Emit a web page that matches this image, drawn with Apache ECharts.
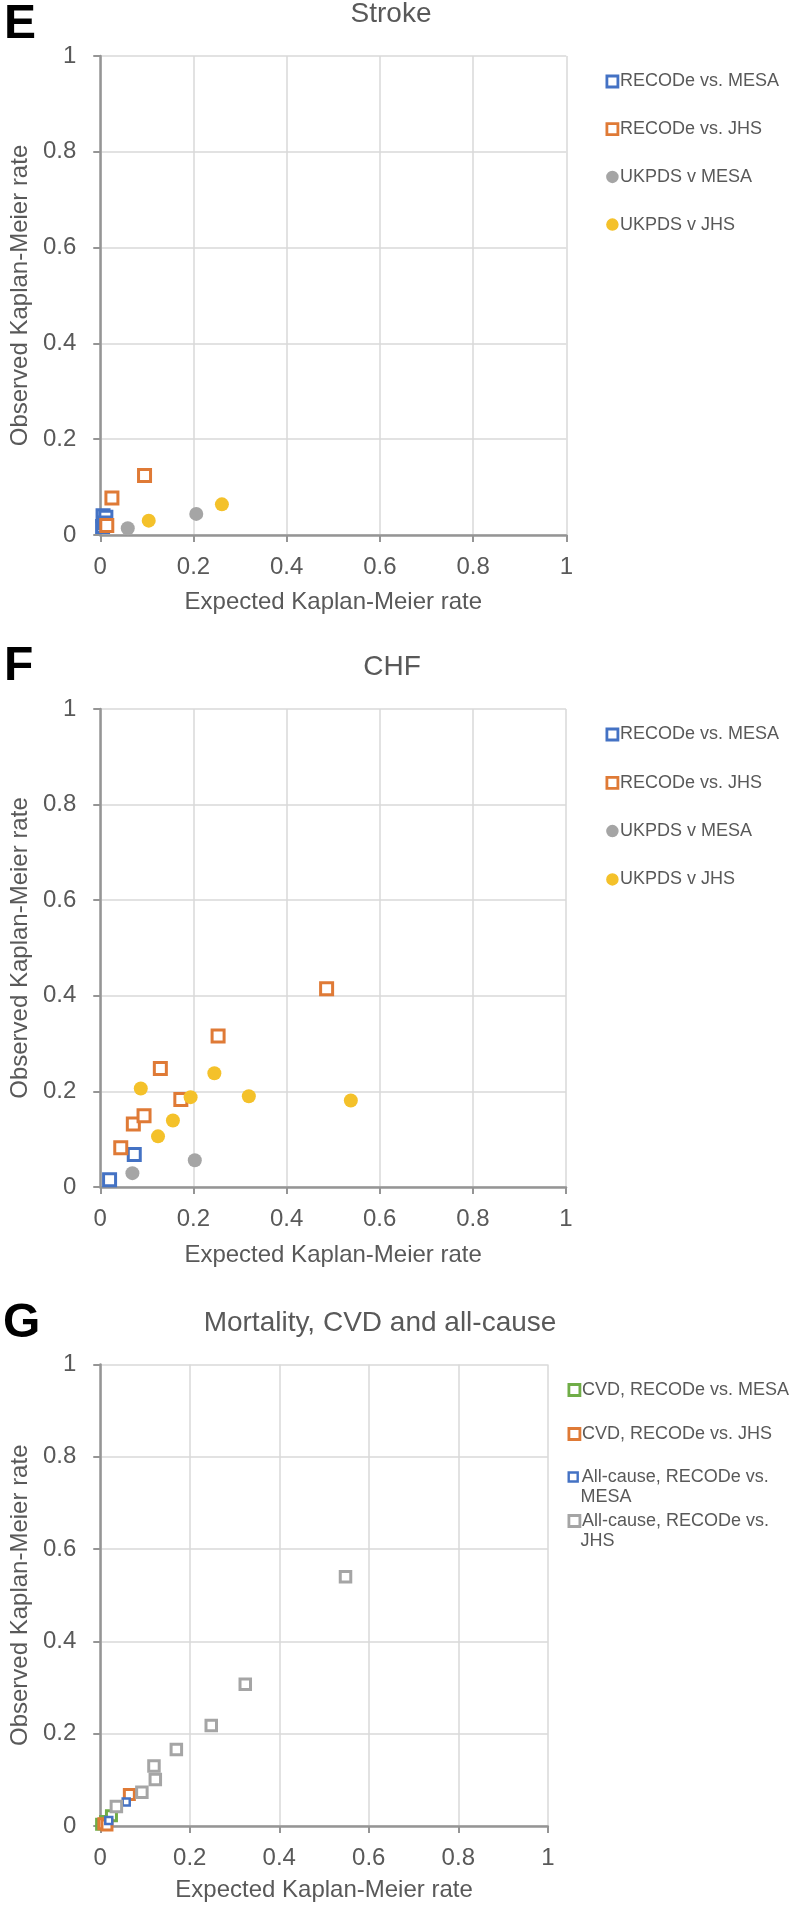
<!DOCTYPE html>
<html>
<head>
<meta charset="utf-8">
<script src="https://cdn.jsdelivr.net/npm/echarts@6/dist/echarts.min.js"></script>
<style>
html,body{margin:0;padding:0;background:#fff;}
#c{width:789px;height:1907px;}
</style>
</head>
<body>
<div id="c"></div>
<script>
// ---- data ----
const tickLabels = ['0', '0.2', '0.4', '0.6', '0.8', '1'];
const seriesNamesEF = ['RECODe vs. MESA', 'RECODe vs. JHS', 'UKPDS v MESA', 'UKPDS v JHS'];
const seriesNamesG = ['CVD, RECODe vs. MESA', 'CVD, RECODe vs. JHS', 'All-cause, RECODe vs. MESA', 'All-cause, RECODe vs. JHS'];
const panelTitles = ['Stroke', 'CHF', 'Mortality, CVD and all-cause'];
const panelLetters = ['E', 'F', 'G'];
const xName = 'Expected Kaplan-Meier rate';
const yName = 'Observed Kaplan-Meier rate';

// Stroke
const strokeRecodeMesa = [[0.006, 0.040], [0.012, 0.037], [0.005, 0.018], [0.010, 0.025]];
const strokeRecodeJhs = [[0.095, 0.124], [0.025, 0.077], [0.014, 0.020]];
const strokeUkpdsMesa = [[0.059, 0.014], [0.206, 0.044]];
const strokeUkpdsJhs = [[0.104, 0.030], [0.261, 0.064]];

// CHF
const chfRecodeMesa = [[0.020, 0.015], [0.073, 0.068]];
const chfRecodeJhs = [[0.044, 0.082], [0.071, 0.132], [0.094, 0.149], [0.129, 0.248], [0.173, 0.183], [0.253, 0.316], [0.486, 0.415]];
const chfUkpdsMesa = [[0.069, 0.029], [0.203, 0.056]];
const chfUkpdsJhs = [[0.087, 0.206], [0.124, 0.106], [0.156, 0.139], [0.194, 0.188], [0.245, 0.238], [0.319, 0.190], [0.538, 0.181]];

// Mortality
const mortCvdMesa = [[0.003, 0.004], [0.012, 0.010], [0.025, 0.022]];
const mortCvdJhs = [[0.008, 0.005], [0.015, 0.002], [0.065, 0.068]];
const mortAllMesa = [[0.019, 0.012], [0.058, 0.052]];
const mortAllJhs = [[0.036, 0.042], [0.093, 0.073], [0.123, 0.101], [0.120, 0.130], [0.170, 0.166], [0.248, 0.218], [0.324, 0.307], [0.548, 0.540]];

// ---- style ----
const BLUE = '#4472C4', ORANGE = '#DF7A36', GRAY = '#A5A5A5', YELLOW = '#F4C12A', GREEN = '#70AD47';
const TXT = '#595959';
const FONT = '"Liberation Sans", Arial, sans-serif';

const grids = [
  { left: 88.3, top: 56, width: 478, height: 479 },
  { left: 89, top: 709, width: 477, height: 478 },
  { left: 87.3, top: 1364.5, width: 460.5, height: 461.5 }
];
const xNameGaps = [55, 56, 52];
const yNameGaps = [67, 66, 64];

function xAxis(i) {
  return {
    gridIndex: i, type: 'value', min: 0, max: 1, interval: 0.2,
    axisLine: { show: true, onZero: false, lineStyle: { color: '#959595', width: 2.5 } },
    axisTick: { show: true, length: 7, lineStyle: { color: '#959595', width: 2 } },
    splitLine: { show: true, lineStyle: { color: '#D9D9D9', width: 1.5 } },
    axisLabel: { margin: 20, fontSize: 24, color: TXT, fontFamily: FONT,
      formatter: v => tickLabels[Math.round(v / 0.2)] },
    name: xName, nameLocation: 'middle', nameGap: xNameGaps[i],
    nameTextStyle: { fontSize: 24, color: TXT, fontFamily: FONT }
  };
}
function yAxis(i) {
  return {
    gridIndex: i, type: 'value', min: 0, max: 1, interval: 0.2,
    axisLine: { show: true, onZero: false, lineStyle: { color: '#959595', width: 2.5 } },
    axisTick: { show: true, length: 7, lineStyle: { color: '#959595', width: 2 } },
    splitLine: { show: true, lineStyle: { color: '#D9D9D9', width: 1.5 } },
    axisLabel: { margin: 24, fontSize: 24, color: TXT, fontFamily: FONT,
      formatter: v => tickLabels[Math.round(v / 0.2)] },
    name: yName, nameLocation: 'middle', nameGap: yNameGaps[i],
    nameTextStyle: { fontSize: 24, color: TXT, fontFamily: FONT }
  };
}
function sq(name, gi, data, color, size, bw) {
  return { name, type: 'scatter', xAxisIndex: gi, yAxisIndex: gi, data,
    symbol: 'rect', symbolSize: size,
    itemStyle: { color: '#ffffff', borderColor: color, borderWidth: bw, opacity: 1 },
    emphasis: { disabled: true } };
}
function dot(name, gi, data, color, size) {
  return { name, type: 'scatter', xAxisIndex: gi, yAxisIndex: gi, data,
    symbol: 'circle', symbolSize: size,
    itemStyle: { color: color, opacity: 1 },
    emphasis: { disabled: true } };
}

const titleCenters = [[391, 14], [392, 667.5], [380, 1323]];
const letterCenters = [[4, 24.5], [4, 666.5], [3, 1323.5]];
const graphic = [];
panelTitles.forEach((t, i) => {
  graphic.push({ type: 'text', x: titleCenters[i][0], y: titleCenters[i][1],
    style: { text: t, fill: TXT, font: '28px ' + FONT, textAlign: 'center', textVerticalAlign: 'middle' } });
  graphic.push({ type: 'text', x: letterCenters[i][0], y: letterCenters[i][1],
    style: { text: panelLetters[i], fill: '#000', font: 'bold 48px ' + FONT, textAlign: 'left', textVerticalAlign: 'middle' } });
});

const legendText = { fontSize: 18, color: TXT, fontFamily: FONT, lineHeight: 20, padding: [0, 0, 0, -3] };
const legendBase = { orient: 'vertical', padding: 0, itemWidth: 11, itemHeight: 11, selectedMode: false, textStyle: legendText };

const efIcons = [
  { icon: 'rect', itemStyle: { color: '#fff', borderColor: BLUE, borderWidth: 2.8 } },
  { icon: 'rect', itemStyle: { color: '#fff', borderColor: ORANGE, borderWidth: 2.8 } },
  { icon: 'circle', itemStyle: { color: GRAY, borderColor: GRAY, borderWidth: 1.5 } },
  { icon: 'circle', itemStyle: { color: YELLOW, borderColor: YELLOW, borderWidth: 1.5 } }
];
const gColors = [GREEN, ORANGE, BLUE, GRAY];

const legends = [
  Object.assign({}, legendBase, { left: 605.5, top: 71.5, itemGap: 27.7, data: seriesNamesEF.map((n, k) => Object.assign({ name: n }, efIcons[k])) }),
  Object.assign({}, legendBase, { left: 605.5, top: 724.5, itemGap: 28.3, data: seriesNamesEF.map((n, k) => Object.assign({ name: n }, efIcons[k])) })
];
// G legends, one per item; long names wrap after "vs." (second line drawn beneath)
const gLegendTops = [1380, 1424, 1467, 1511];
const gIconBorder = [2.8, 2.8, 2.4, 2.8];
seriesNamesG.forEach((n, k) => {
  const twoLine = k >= 2;
  legends.push(Object.assign({}, legendBase, {
    left: 567.5, top: gLegendTops[k],
    itemWidth: k === 2 ? 9 : 11, itemHeight: k === 2 ? 9 : 11,
    data: [{ name: n, icon: 'rect', itemStyle: { color: '#fff', borderColor: gColors[k], borderWidth: gIconBorder[k] } }],
    textStyle: Object.assign({}, legendText, k === 2 ? { padding: [0, 0, 0, -1] } : {}),
    formatter: nm => twoLine ? nm.slice(0, nm.indexOf('vs.') + 3) : nm
  }));
  if (twoLine) {
    graphic.push({ type: 'text', x: 580.5, y: gLegendTops[k] + 30,
      style: { text: n.slice(n.indexOf('vs.') + 4), fill: TXT, font: '18px ' + FONT, textAlign: 'left', textVerticalAlign: 'middle' } });
  }
});

const option = {
  backgroundColor: '#ffffff',
  animation: false,
  graphic: graphic,
  grid: grids,
  xAxis: [xAxis(0), xAxis(1), xAxis(2)],
  yAxis: [yAxis(0), yAxis(1), yAxis(2)],
  legend: legends,
  series: [
    sq(seriesNamesEF[0], 0, strokeRecodeMesa, BLUE, 12, 3),
    sq(seriesNamesEF[1], 0, strokeRecodeJhs, ORANGE, 12, 3),
    dot(seriesNamesEF[2], 0, strokeUkpdsMesa, GRAY, 14),
    dot(seriesNamesEF[3], 0, strokeUkpdsJhs, YELLOW, 14),

    sq(seriesNamesEF[0], 1, chfRecodeMesa, BLUE, 12, 3),
    sq(seriesNamesEF[1], 1, chfRecodeJhs, ORANGE, 12, 3),
    dot(seriesNamesEF[2], 1, chfUkpdsMesa, GRAY, 14),
    dot(seriesNamesEF[3], 1, chfUkpdsJhs, YELLOW, 14),

    sq(seriesNamesG[0], 2, mortCvdMesa, GREEN, 10, 3),
    sq(seriesNamesG[1], 2, mortCvdJhs, ORANGE, 10, 3),
    sq(seriesNamesG[2], 2, mortAllMesa, BLUE, 7, 2.5),
    sq(seriesNamesG[3], 2, mortAllJhs, GRAY, 10.5, 3)
  ]
};

const chart = echarts.init(document.getElementById('c'), null, { renderer: 'canvas' });
chart.setOption(option);
</script>
</body>
</html>
